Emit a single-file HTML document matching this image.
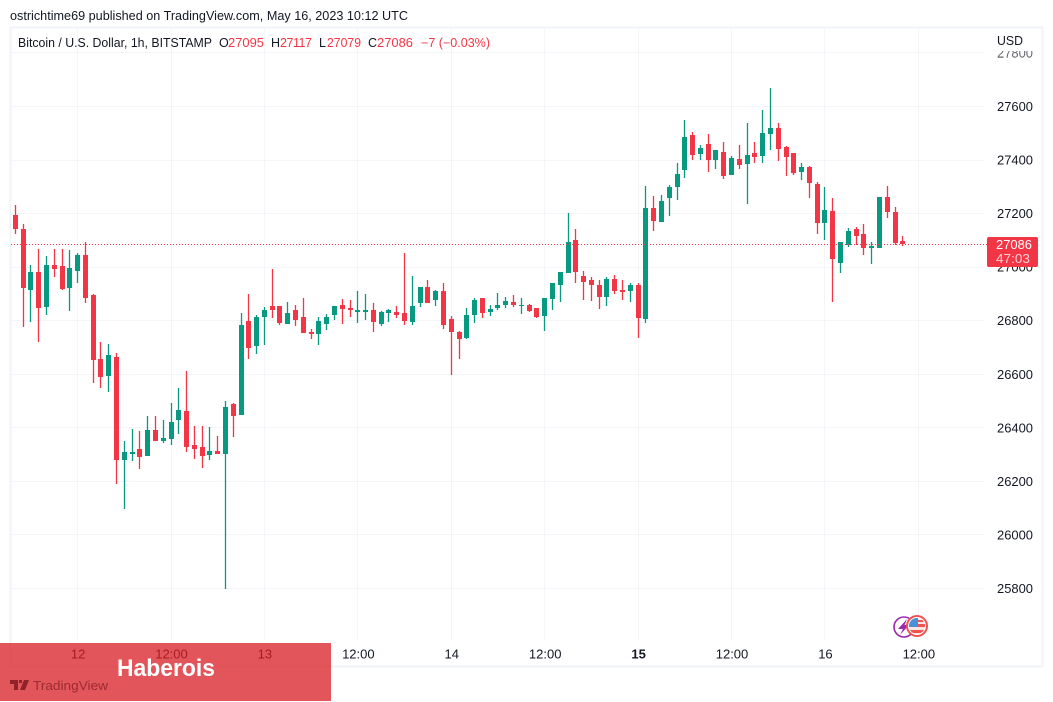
<!DOCTYPE html>
<html lang="en">
<head>
<meta charset="utf-8">
<title>BTC/USD 1h chart</title>
<style>
html,body{margin:0;padding:0;background:#fff;width:1053px;height:702px;overflow:hidden}
svg{display:block;position:absolute;left:0;top:0}
text{font-family:"Liberation Sans",sans-serif;fill:#131722}
</style>
</head>
<body>
<svg id="chart" xmlns="http://www.w3.org/2000/svg" width="1053" height="702" viewBox="0 0 1053 702">
  <text x="10" y="20" font-size="12.5" textLength="398" lengthAdjust="spacingAndGlyphs">ostrichtime69 published on TradingView.com, May 16, 2023 10:12 UTC</text>
  <rect x="10.5" y="27.5" width="1032" height="639" fill="#fff" stroke="#f0f3fa" stroke-width="2"/>
  <g id="grid"></g>
  <g id="candles"></g>
  <line id="lastLine" x1="11" x2="987" stroke="#F23645" stroke-width="1" stroke-dasharray="1 2"/>
  <g id="priceAxis"></g>
  <rect x="988" y="29" width="53" height="22" fill="#fff"/>
  <rect x="988" y="51" width="53" height="6" fill="#fff" fill-opacity="0.35"/>
  <text x="997" y="45" font-size="12.5" textLength="26" lengthAdjust="spacingAndGlyphs">USD</text>
  <g id="lastLabel"></g>
  <g id="timeAxis"></g>

  <g font-size="12.5">
    <text x="18" y="47" textLength="194" lengthAdjust="spacingAndGlyphs">Bitcoin / U.S. Dollar, 1h, BITSTAMP</text>
    <text x="219" y="47">O</text>
    <text x="228" y="47" style="fill:#F23645" textLength="36" lengthAdjust="spacingAndGlyphs">27095</text>
    <text x="271" y="47">H</text>
    <text x="280" y="47" style="fill:#F23645" textLength="32" lengthAdjust="spacing">27117</text>
    <text x="319" y="47">L</text>
    <text x="327" y="47" style="fill:#F23645" textLength="34" lengthAdjust="spacingAndGlyphs">27079</text>
    <text x="368" y="47">C</text>
    <text x="377" y="47" style="fill:#F23645" textLength="36" lengthAdjust="spacingAndGlyphs">27086</text>
    <text x="421" y="47" style="fill:#F23645" textLength="69" lengthAdjust="spacingAndGlyphs">−7 (−0.03%)</text>
  </g>

  <g>
    <circle cx="904" cy="627" r="10" fill="#fff" stroke="#9c27b0" stroke-width="1.6"/>
    <polygon points="907,619 898,629 903,629 900,635 909,625 904.5,625" fill="#9c27b0"/>
    <circle cx="917" cy="626" r="10" fill="#fff" stroke="#ef5350" stroke-width="2"/>
    <clipPath id="flagClip"><circle cx="917" cy="626" r="8"/></clipPath>
    <g clip-path="url(#flagClip)">
      <rect x="908" y="617" width="18" height="18" fill="#fbe3e3"/>
      <rect x="917" y="620" width="10" height="2" fill="#ef5350"/>
      <rect x="917" y="624" width="10" height="3" fill="#ef5350"/>
      <rect x="908" y="630" width="18" height="3" fill="#ef5350"/>
      <rect x="908" y="617" width="10" height="10" fill="#4a90d9"/>
    </g>
  </g>

  <rect x="0" y="643" width="331" height="58" fill="rgb(216,28,35)" fill-opacity="0.75"/>
  <text x="117" y="676" font-size="24" font-weight="700" style="fill:#fff" textLength="98" lengthAdjust="spacingAndGlyphs">Haberois</text>
  <g>
    <path d="M10 680h8v10h-4v-6h-4zM19 680h3v3h-3zM24 680h5l-4 10h-5z" fill="#8f2328"/>
    <text x="33" y="690" font-size="13" style="fill:#9a2c31" textLength="75" lengthAdjust="spacingAndGlyphs">TradingView</text>
  </g>
</svg>
<script>
var priceTicks = [27800, 27600, 27400, 27200, 27000, 26800, 26600, 26400, 26200, 26000, 25800];
var timeTickIndex = [8, 20, 32, 44, 56, 68, 80, 92, 104, 116];
var timeTickLabels = ["12", "12:00", "13", "12:00", "14", "12:00", "15", "12:00", "16", "12:00"];
var timeTickBold = ["15"];
var lastPrice = 27086;
var countdown = "47:03";
var opens = [27195,27143,26915,26979,26852,27008,27005,26923,26986,27046,26893,26654,26594,26665,26280,26303,26321,26295,26392,26351,26359,26430,26463,26336,26329,26299,26314,26303,26486,26448,26796,26706,26814,26855,26852,26788,26837,26811,26758,26751,26788,26822,26859,26848,26833,26833,26840,26788,26829,26833,26826,26796,26867,26923,26878,26908,26807,26758,26736,26822,26885,26833,26848,26859,26870,26855,26859,26848,26818,26882,26934,26979,27102,26964,26952,26934,26889,26956,26915,26911,26934,26807,27221,27169,27259,27300,27363,27494,27423,27457,27401,27430,27345,27404,27386,27427,27415,27498,27520,27449,27427,27356,27374,27311,27165,27210,27016,27083,27143,27124,27072,27072,27262,27206,27095];
var highs = [27233,27162,27008,27068,27042,27068,27068,27064,27053,27094,26900,26721,26713,26680,26351,26396,26389,26445,26445,26430,26493,26549,26613,26407,26407,26404,26370,26501,26493,26829,26900,26822,26852,26994,26855,26870,26859,26885,26770,26814,26826,26855,26882,26878,26911,26900,26867,26837,26844,26855,27053,26967,26926,26952,26915,26941,26818,26762,26848,26885,26885,26859,26904,26889,26896,26885,26863,26848,26885,26941,26982,27203,27143,26986,26964,26952,26964,26971,26952,26941,26941,27303,27266,27270,27307,27389,27550,27505,27457,27498,27438,27468,27415,27457,27539,27468,27587,27669,27539,27453,27427,27389,27378,27318,27300,27259,27094,27147,27150,27162,27094,27262,27303,27225,27117];
var lows = [27124,26777,26796,26721,26822,26964,26915,26837,26941,26867,26568,26549,26534,26191,26097,26277,26247,26295,26351,26344,26336,26377,26310,26284,26250,26280,26303,25799,26366,26448,26658,26676,26710,26811,26784,26788,26781,26755,26732,26710,26766,26803,26788,26814,26792,26803,26758,26781,26796,26811,26784,26784,26852,26867,26855,26770,26598,26658,26732,26792,26811,26818,26840,26848,26852,26826,26833,26811,26762,26840,26870,26979,26941,26878,26874,26844,26855,26900,26878,26870,26736,26792,27135,27169,27191,27251,27333,27401,27401,27356,27367,27330,27345,27367,27236,27389,27389,27438,27397,27341,27345,27326,27259,27124,27102,26870,26979,27076,27083,27046,27012,27072,27184,27083,27079];
var closes = [27143,26923,26982,26848,27008,26994,26919,26994,27046,26885,26654,26590,26669,26280,26310,26310,26292,26392,26351,26359,26419,26467,26329,26321,26295,26314,26303,26475,26445,26784,26699,26811,26840,26840,26792,26826,26803,26755,26751,26796,26814,26855,26844,26840,26837,26840,26796,26833,26837,26822,26799,26855,26923,26867,26908,26784,26758,26732,26822,26878,26829,26844,26859,26874,26859,26859,26837,26814,26885,26938,26979,27094,26982,26945,26934,26889,26956,26911,26908,26934,26811,27221,27173,27247,27300,27348,27486,27419,27445,27401,27438,27341,27408,27382,27419,27412,27501,27520,27442,27412,27352,27374,27315,27165,27214,27031,27091,27135,27117,27072,27079,27262,27206,27091,27086];

function xAt(i) { return 15.3 + 7.785 * i; }
function yAt(p) { return 106.5 + (27600 - p) * 0.26775; }

var NS = "http://www.w3.org/2000/svg";
function make(tag, parent, attrs) {
  var el = document.createElementNS(NS, tag);
  for (var k in attrs) el.setAttribute(k, attrs[k]);
  parent.appendChild(el);
  return el;
}

var grid = document.getElementById("grid");
priceTicks.forEach(function (p) {
  var y = Math.floor(yAt(p)) + 0.5;
  var el = make("line", grid, {x1: 11, x2: 985, y1: y, y2: y, stroke: "#f3f5f9", "stroke-width": 1});
  
  
});
timeTickIndex.forEach(function (i) {
  var x = Math.floor(xAt(i)) + 0.5;
  var el = make("line", grid, {x1: x, x2: x, y1: 28, y2: 640, stroke: "#f3f5f9", "stroke-width": 1});
  
  
});

var candles = document.getElementById("candles");
opens.forEach(function (o, i) {
  var c = closes[i];
  var color = c >= o ? "#089981" : "#F23645";
  var cx = Math.floor(xAt(i));
  var g = make("g", candles, {});
  
  
  var yh = Math.round(yAt(highs[i]));
  var yl = Math.round(yAt(lows[i]));
  var top = Math.floor(yAt(Math.max(o, c)) + 0.2);
  var bot = Math.ceil(yAt(Math.min(o, c)) - 0.2);
  var wick = make("rect", g, {x: cx - 0.15, y: yh, width: 1.3, height: Math.max(1, yl - yh), fill: color});
  
  
  var body = make("rect", g, {x: cx - 2, y: top, width: 5, height: Math.max(1, bot - top), fill: color});
  
  
});

var ll = document.getElementById("lastLine");
var lastY = Math.floor(yAt(lastPrice)) + 0.5;
ll.setAttribute("y1", lastY);
ll.setAttribute("y2", lastY);

var priceAxis = document.getElementById("priceAxis");
priceTicks.forEach(function (p) {
  var t = make("text", priceAxis, {x: 997, y: yAt(p) + 4.5, "font-size": 13, textLength: 36, lengthAdjust: "spacingAndGlyphs"});
  t.textContent = String(p);
  
  
});

var lastLabel = document.getElementById("lastLabel");
var labelBox = make("rect", lastLabel, {x: 987, y: Math.round(yAt(lastPrice)) - 7, width: 51, height: 30, rx: 2, fill: "#F23645"});


var labelPrice = make("text", lastLabel, {x: 996, y: Math.round(yAt(lastPrice)) + 5, "font-size": 13, style: "fill:#fff", textLength: 36, lengthAdjust: "spacingAndGlyphs"});
labelPrice.textContent = String(lastPrice);


var labelTime = make("text", lastLabel, {x: 996, y: Math.round(yAt(lastPrice)) + 19, "font-size": 13, style: "fill:#ffd0d4", textLength: 34, lengthAdjust: "spacingAndGlyphs"});
labelTime.textContent = countdown;



var timeAxis = document.getElementById("timeAxis");
timeTickIndex.forEach(function (i, n) {
  var label = timeTickLabels[n];
  var t = make("text", timeAxis, {x: xAt(i) + 0.5, y: 658.5, "font-size": 13, "text-anchor": "middle"});
  if (timeTickBold.indexOf(label) >= 0) t.setAttribute("font-weight", "700");
  t.textContent = label;
  
  
});
</script>
</body>
</html>
